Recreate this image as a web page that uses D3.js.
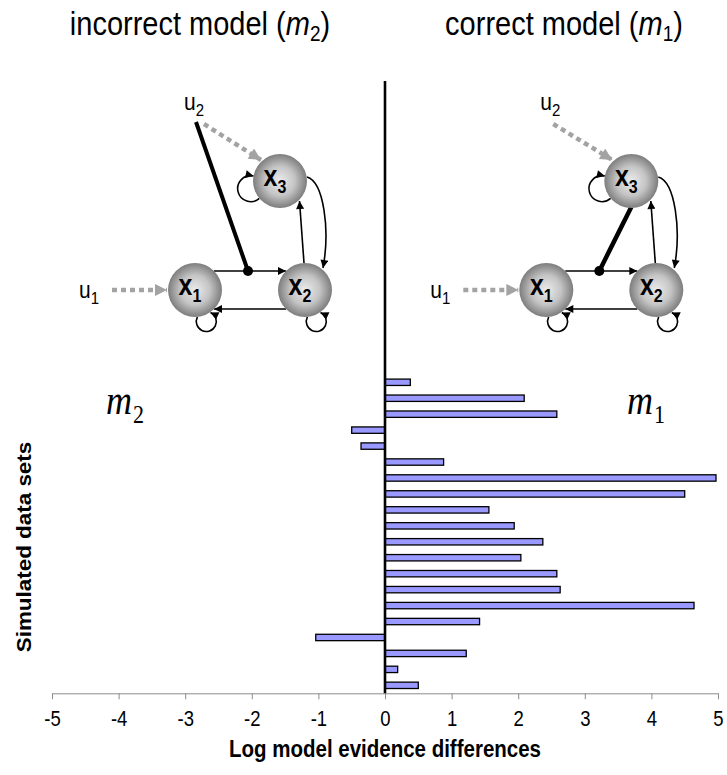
<!DOCTYPE html>
<html>
<head>
<meta charset="utf-8">
<script src="https://cdn.jsdelivr.net/npm/d3@7"></script>
<style>
  body { margin: 0; background: #fff; }
</style>
</head>
<body>
<svg id="chart" width="727" height="775" font-family='"Liberation Sans", Arial, sans-serif'></svg>
<script>
// Simulated data sets (top to bottom) and their log model evidence differences (m1 vs m2)
const dataSets = d3.range(1, 21).map(i => "set " + i);
const evidenceDiff = [0.38, 2.09, 2.58, -0.50, -0.36, 0.88, 4.97, 4.50, 1.56, 1.94,
                      2.37, 2.04, 2.58, 2.63, 4.64, 1.42, -1.04, 1.22, 0.19, 0.50];
const xTicks = [-5, -4, -3, -2, -1, 0, 1, 2, 3, 4, 5];
const xTitle = "Log model evidence differences";
const yTitle = "Simulated data sets";

const svg = d3.select("#chart");
const SY = 1.15; // vertical stretch of lettering
const SERIF = '"Liberation Serif", "Times New Roman", serif';

const x = d3.scaleLinear().domain([-5, 5]).range([52, 718]);
const y = d3.scaleBand().domain(dataSets).range([374.3, 693.3]).paddingInner(0.6).paddingOuter(0.3);

// helper: stretched text block
function stretchedText(parent, tx, ty, opts) {
  const g = parent.append("g").attr("transform", `translate(${tx},${ty}) scale(1,${SY})`);
  const t = g.append("text")
    .attr("text-anchor", opts.anchor || "start")
    .attr("font-size", opts.size)
    .attr("font-weight", opts.weight || "normal")
    .attr("fill", "#000");
  if (opts.family) t.attr("font-family", opts.family);
  return t;
}

// ---- titles ----
function modelTitle(cx, label, sub) {
  const t = stretchedText(svg, cx, 35, { size: 29, anchor: "middle" });
  t.append("tspan").text(label + " (");
  t.append("tspan").attr("font-style", "italic").text("m");
  t.append("tspan").attr("font-size", 19).attr("dy", 5).text(sub);
  t.append("tspan").attr("dy", -5).text(")");
}
modelTitle(200, "incorrect model", "2");
modelTitle(564, "correct model", "1");

// ---- axis ----
const axisG = svg.append("g").attr("transform", "translate(0,693.3)")
  .call(d3.axisBottom(x).tickValues(xTicks).tickSize(6).tickSizeOuter(0).tickPadding(9)
        .tickFormat(d => String(d)));
axisG.select(".domain").attr("stroke", "#8c8c8c").attr("stroke-width", 1);
axisG.selectAll(".tick line").attr("stroke", "#8c8c8c").attr("stroke-width", 1);
axisG.selectAll(".tick text")
  .attr("font-size", 18.5).attr("fill", "#000")
  .attr("font-family", '"Liberation Sans", Arial, sans-serif')
  .attr("transform", `scale(1,${SY})`);

// axis titles
stretchedText(svg, 385, 757, { size: 20.5, anchor: "middle", weight: "bold" }).text(xTitle);
svg.append("g").attr("transform", `translate(31,547) rotate(-90) scale(${SY},1)`)
  .append("text").attr("text-anchor", "middle").attr("font-size", 19.5)
  .attr("font-weight", "bold").text(yTitle);

// ---- bars ----
svg.append("g").selectAll("rect").data(evidenceDiff).join("rect")
  .attr("x", d => x(Math.min(0, d)))
  .attr("y", (d, i) => y(dataSets[i]))
  .attr("width", d => Math.abs(x(d) - x(0)))
  .attr("height", y.bandwidth())
  .attr("fill", "#9999ff")
  .attr("stroke", "#000")
  .attr("stroke-width", 1.3);

// zero line
svg.append("line")
  .attr("x1", x(0)).attr("x2", x(0))
  .attr("y1", 81).attr("y2", 693.3)
  .attr("stroke", "#000").attr("stroke-width", 2.6);

// ---- model labels ----
function modelLabel(lx, sub) {
  const t = stretchedText(svg, lx, 414, { size: 36, family: SERIF });
  t.append("tspan").attr("font-style", "italic").text("m");
  t.append("tspan").attr("font-size", 22).attr("dy", 8).attr("dx", 1).text(sub);
}
modelLabel(106, "2");
modelLabel(627, "1");

// ---- network diagrams ----
const defs = svg.append("defs");
const grad = defs.append("radialGradient").attr("id", "nodeShade")
  .attr("cx", "50%").attr("cy", "50%").attr("r", "50%");
grad.append("stop").attr("offset", "0%").attr("stop-color", "#ececec");
grad.append("stop").attr("offset", "55%").attr("stop-color", "#c4c4c4");
grad.append("stop").attr("offset", "100%").attr("stop-color", "#7d7d7d");

defs.append("marker").attr("id", "headBlack")
  .attr("viewBox", "0 0 10 10").attr("refX", 10).attr("refY", 5)
  .attr("markerUnits", "userSpaceOnUse").attr("markerWidth", 9).attr("markerHeight", 8)
  .attr("orient", "auto")
  .append("path").attr("d", "M0,0 L10,5 L0,10 Z").attr("fill", "#000");
defs.append("marker").attr("id", "headGrey")
  .attr("viewBox", "0 0 10 10").attr("refX", 10).attr("refY", 5)
  .attr("markerUnits", "userSpaceOnUse").attr("markerWidth", 13).attr("markerHeight", 12)
  .attr("orient", "auto")
  .append("path").attr("d", "M0,0 L10,5 L0,10 Z").attr("fill", "#a3a3a3");

function drawNetwork(ox, variant) {
  const g = svg.append("g").attr("transform", `translate(${ox},0)`);
  const r = 27;
  const nodes = { x1: [195, 290], x2: [305, 290], x3: [280, 181] };

  const input = (x1, y1, x2, y2) => g.append("line")
    .attr("x1", x1).attr("y1", y1).attr("x2", x2).attr("y2", y2)
    .attr("stroke", "#a3a3a3").attr("stroke-width", 4.5)
    .attr("stroke-dasharray", "5,4").attr("marker-end", "url(#headGrey)");
  const conn = d => g.append("path").attr("d", d).attr("fill", "none")
    .attr("stroke", "#000").attr("stroke-width", 1.6).attr("marker-end", "url(#headBlack)");

  // inputs
  input(112, 290, 167, 290);
  input(variant === "m2" ? 204 : 202, 124, 261, 160);

  // input labels
  const uLabel = (lx, ly, sub) => {
    const t = stretchedText(g, lx, ly, { size: 21 });
    t.append("tspan").text("u");
    t.append("tspan").attr("font-size", 15).attr("dy", 5).text(sub);
  };
  uLabel(79, 298, "1");
  uLabel(variant === "m2" ? 184 : 189, 110, "2");

  // modulatory connection
  if (variant === "m2") {
    g.append("line").attr("x1", 196).attr("y1", 122).attr("x2", 248).attr("y2", 271)
      .attr("stroke", "#000").attr("stroke-width", 4);
  } else {
    g.append("line").attr("x1", 280).attr("y1", 207).attr("x2", 248).attr("y2", 271)
      .attr("stroke", "#000").attr("stroke-width", 4.5);
  }

  // fixed connections
  conn("M214,271 L286,271");
  conn("M286,309 L214,309");
  conn("M304,263 L299.5,201");
  conn("M307,177 C324,182 330,230 323,268");
  // self connections
  conn("M259.3,198.4 A13,13 0 1,1 253.6,176");
  conn("M197.4,316.9 A10,10 0 1,0 210.5,312.4");
  conn("M307.4,316.9 A10,10 0 1,0 320.5,312.4");

  // modulation junction
  g.append("circle").attr("cx", 248).attr("cy", 271).attr("r", 5).attr("fill", "#000");

  // regions
  Object.entries(nodes).forEach(([k, [cx, cy]]) => {
    g.append("circle").attr("cx", cx).attr("cy", cy).attr("r", r)
      .attr("fill", "url(#nodeShade)");
    const t = stretchedText(g, cx - 5, cy + 5, { size: 25, weight: "bold", anchor: "middle" });
    t.append("tspan").text("x");
    t.append("tspan").attr("font-size", 16).attr("dy", 6).text(k.slice(1));
  });
}
drawNetwork(0, "m2");
drawNetwork(351.3, "m1");
</script>
</body>
</html>
